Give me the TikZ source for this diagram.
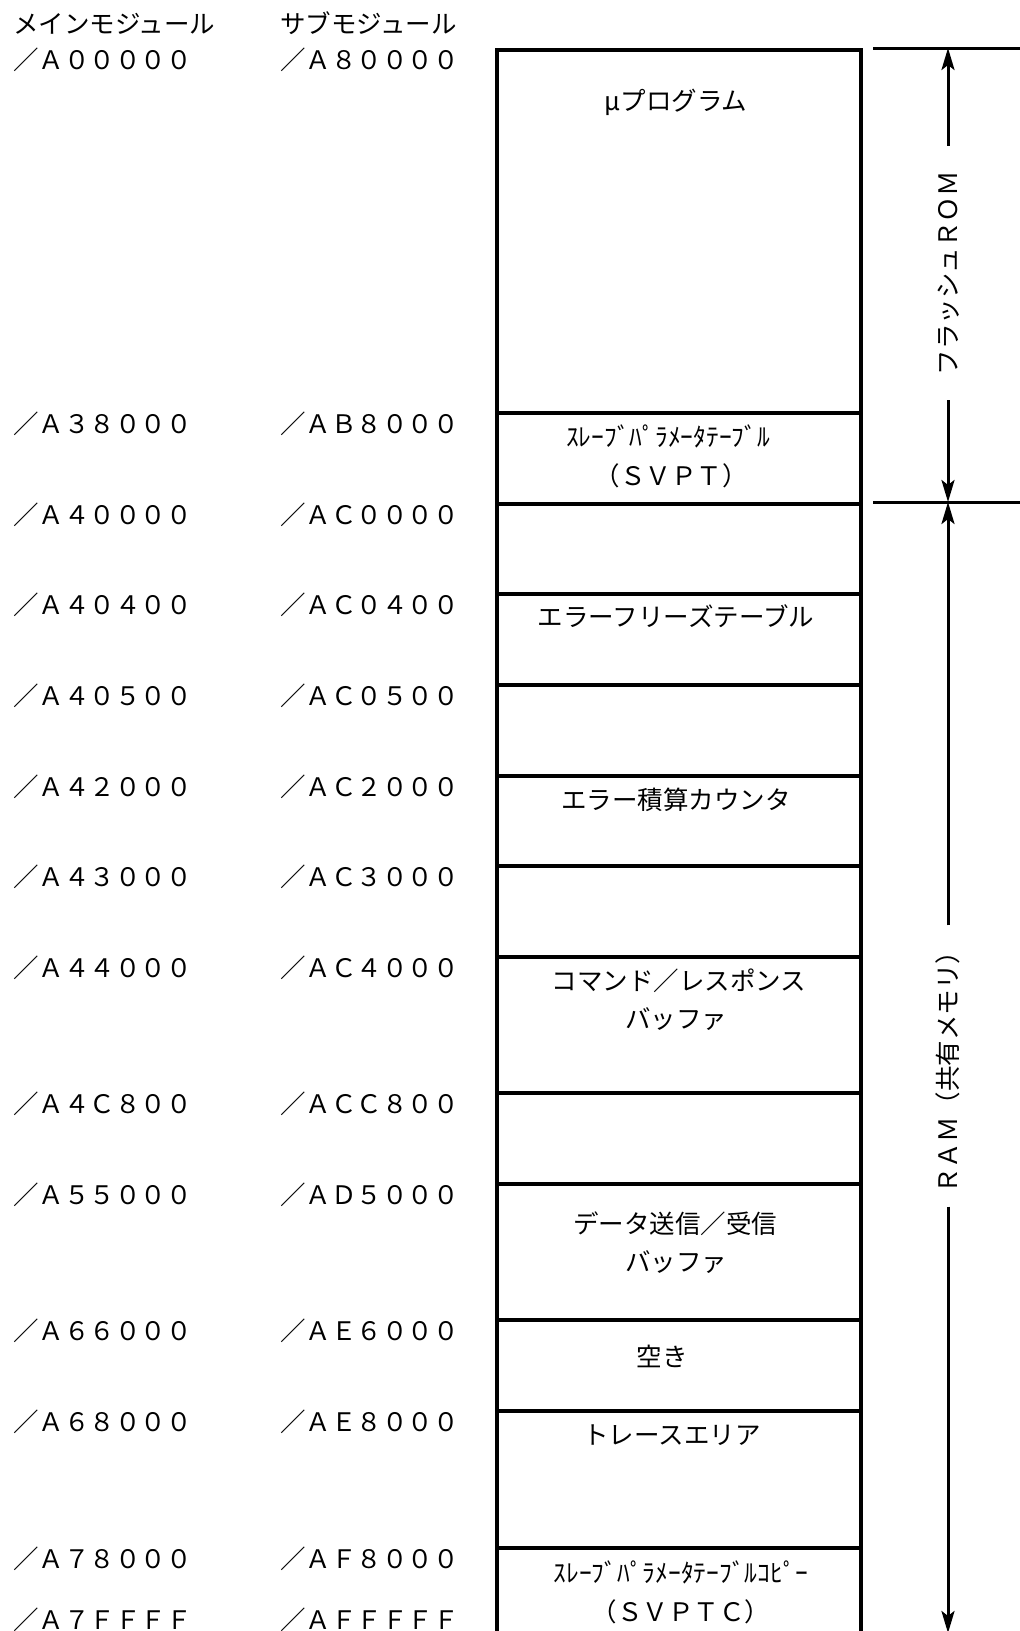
\documentclass[tikz,border=0pt]{standalone}
\usepackage{fontspec}
\newfontfamily\jp{Noto Sans CJK JP}
\usetikzlibrary{arrows.meta}
\begin{document}
\begin{tikzpicture}[x=1pt,y=-1pt,
  txt/.style={font=\jp\fontsize{25.5}{30}\selectfont, inner sep=0pt, text height=22.4pt, text depth=3.1pt},
  addr/.style={txt, anchor=west},
  rowbox/.style={draw, line width=3.5pt, minimum width=364pt, inner sep=0pt, anchor=north west},
  vlab/.style={txt, rotate=90, inner ysep=0pt},
  dimarrow/.style={-{Stealth[length=22pt,width=13pt,inset=5pt]}, line width=3pt},
  hline/.style={line width=3pt}
]
\useasboundingbox (0,0) rectangle (1020,1631);

% headers
\node[addr] (hmain) at (13,24) {メインモジュール};
\node[addr] (hsub) at (280,24) {サブモジュール};

% address labels
\node[addr] (m1) at (13,60) {／Ａ０００００};
\node[addr] (s1) at (280,60) {／Ａ８００００};
\node[addr] (m2) at (13,424) {／Ａ３８０００};
\node[addr] (s2) at (280,424) {／ＡＢ８０００};
\node[addr] (m3) at (13,515) {／Ａ４００００};
\node[addr] (s3) at (280,515) {／ＡＣ００００};
\node[addr] (m4) at (13,605) {／Ａ４０４００};
\node[addr] (s4) at (280,605) {／ＡＣ０４００};
\node[addr] (m5) at (13,696) {／Ａ４０５００};
\node[addr] (s5) at (280,696) {／ＡＣ０５００};
\node[addr] (m6) at (13,787) {／Ａ４２０００};
\node[addr] (s6) at (280,787) {／ＡＣ２０００};
\node[addr] (m7) at (13,877) {／Ａ４３０００};
\node[addr] (s7) at (280,877) {／ＡＣ３０００};
\node[addr] (m8) at (13,968) {／Ａ４４０００};
\node[addr] (s8) at (280,968) {／ＡＣ４０００};
\node[addr] (m9) at (13,1104) {／Ａ４Ｃ８００};
\node[addr] (s9) at (280,1104) {／ＡＣＣ８００};
\node[addr] (m10) at (13,1195) {／Ａ５５０００};
\node[addr] (s10) at (280,1195) {／ＡＤ５０００};
\node[addr] (m11) at (13,1331) {／Ａ６６０００};
\node[addr] (s11) at (280,1331) {／ＡＥ６０００};
\node[addr] (m12) at (13,1422) {／Ａ６８０００};
\node[addr] (s12) at (280,1422) {／ＡＥ８０００};
\node[addr] (m13) at (13,1559) {／Ａ７８０００};
\node[addr] (s13) at (280,1559) {／ＡＦ８０００};
\node[addr] (m14) at (13,1620) {／Ａ７ＦＦＦＦ};
\node[addr] (s14) at (280,1620) {／ＡＦＦＦＦＦ};

% memory map rows
\node[rowbox, minimum height=363pt] (r1) at (495,48) {};
\node[rowbox, minimum height=91pt] (r2) at (495,411) {};
\node[rowbox, minimum height=90pt] (r3) at (495,502) {};
\node[rowbox, minimum height=91pt] (r4) at (495,592) {};
\node[rowbox, minimum height=91pt] (r5) at (495,683) {};
\node[rowbox, minimum height=90pt] (r6) at (495,774) {};
\node[rowbox, minimum height=91pt] (r7) at (495,864) {};
\node[rowbox, minimum height=136pt] (r8) at (495,955) {};
\node[rowbox, minimum height=91pt] (r9) at (495,1091) {};
\node[rowbox, minimum height=136pt] (r10) at (495,1182) {};
\node[rowbox, minimum height=91pt] (r11) at (495,1318) {};
\node[rowbox, minimum height=137pt] (r12) at (495,1409) {};
\node[rowbox, minimum height=90pt] (r13) at (495,1546) {};

% row texts
\node[txt] (t1) at (676,101) {μプログラム};
\node[txt] (t2a) at (668,437) {ｽﾚｰﾌﾞﾊﾟﾗﾒｰﾀﾃｰﾌﾞﾙ};
\node[txt] (t2b) at (671,476) {（ＳＶＰＴ）};
\node[txt] (t4) at (676,617) {エラーフリーズテーブル};
\node[txt] (t6) at (676,800) {エラー積算カウンタ};
\node[txt] (t8a) at (679,981) {コマンド／レスポンス};
\node[txt] (t8b) at (676,1019) {バッファ};
\node[txt] (t10a) at (675,1224) {データ送信／受信};
\node[txt] (t10b) at (676,1262) {バッファ};
\node[txt] (t11) at (662,1357) {空き};
\node[txt] (t12) at (672,1435) {トレースエリア};
\node[txt] (t13a) at (681,1573) {ｽﾚｰﾌﾞﾊﾟﾗﾒｰﾀﾃｰﾌﾞﾙｺﾋﾟｰ};
\node[txt] (t13b) at (681,1612) {（ＳＶＰＴＣ）};

% right-hand dimension lines
\coordinate (h1a) at (873,48);
\coordinate (h1b) at (1020,48);
\coordinate (h2a) at (873,502);
\coordinate (h2b) at (1020,502);
\draw[hline] (h1a) -- (h1b);
\draw[hline] (h2a) -- (h2b);

\coordinate (romtop) at (948,48);
\coordinate (rombot) at (948,502);
\coordinate (ramtop) at (948,502);
\coordinate (rambot) at (948,1633);

\node[vlab, inner xsep=25pt] (rom) at (948,273) {フラッシュＲＯＭ};
\node[vlab, inner xsep=13pt] (ram) at (948,1066) {ＲＡＭ（共有メモリ）};

\draw[dimarrow] (rom.east) -- (romtop);
\draw[dimarrow] (rom.west) -- (rombot);
\draw[dimarrow] (ram.east) -- (ramtop);
\draw[dimarrow] (ram.west) -- (rambot);
\end{tikzpicture}
\end{document}
